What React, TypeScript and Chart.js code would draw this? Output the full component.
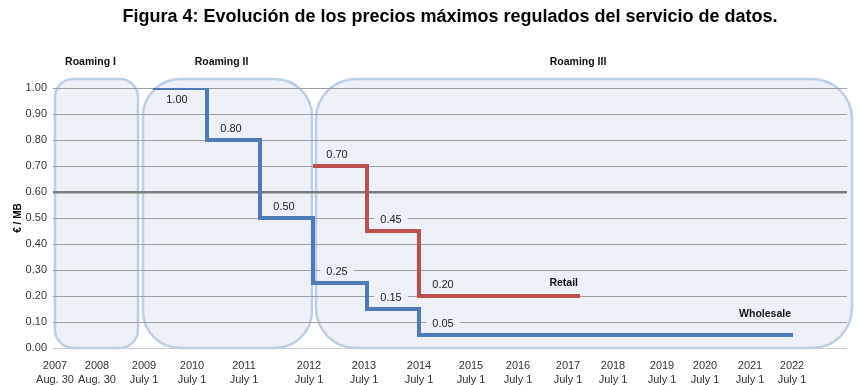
import React, { useEffect, useRef } from "react";
import { Chart, registerables } from "chart.js";

Chart.register(...registerables);

// ---- data ----
const yearLabels = ["2007", "2008", "2009", "2010", "2011", "2012", "2013", "2014", "2015", "2016", "2017", "2018", "2019", "2020", "2021", "2022"];
const dateLabels = ["Aug. 30", "Aug. 30", "July 1", "July 1", "July 1", "July 1", "July 1", "July 1", "July 1", "July 1", "July 1", "July 1", "July 1", "July 1", "July 1", "July 1"];
// position of each label on the (irregular) horizontal axis
const tickPositions = [0.2, 4.4, 9.1, 13.9, 19.1, 25.6, 31.1, 36.6, 41.8, 46.5, 51.5, 56.0, 60.9, 65.2, 69.7, 73.9];

const wholesaleX = [10.0, 15.4, 20.7, 26.0, 31.4, 36.6, 74.0];
const wholesaleY = [1.0, 0.8, 0.5, 0.25, 0.15, 0.05, 0.05];
const retailX = [26.0, 31.4, 36.6, 52.7];
const retailY = [0.7, 0.45, 0.2, 0.2];

const regionNames = ["Roaming I", "Roaming II", "Roaming III"];
const regionStart = [0.2, 9.0, 26.3];
const regionEnd = [8.5, 25.9, 79.9];
const regionTop = 1.035;

const X_MAX = 79.4;

const FONT = "'Liberation Sans', Arial, sans-serif";
const REGION_FILL = "#edf1f7";
const REGION_STROKE = "#bccfe5";

const regionsPlugin = {
  id: "regions",
  beforeDraw(chart: any) {
    const { ctx } = chart;
    const xs = chart.scales.x;
    const ys = chart.scales.y;
    ctx.save();
    regionNames.forEach((name, i) => {
      const x0 = xs.getPixelForValue(regionStart[i]);
      const x1 = xs.getPixelForValue(regionEnd[i]);
      const y0 = ys.getPixelForValue(regionTop);
      const y1 = ys.getPixelForValue(0);
      const r = Math.min(40, (x1 - x0) * 0.22);
      ctx.beginPath();
      (ctx as any).roundRect(x0, y0, x1 - x0, y1 - y0, r);
      ctx.fillStyle = REGION_FILL;
      ctx.fill();
      ctx.lineWidth = 2.5;
      ctx.strokeStyle = REGION_STROKE;
      ctx.stroke();
      ctx.fillStyle = "#111";
      ctx.font = `bold 10.5px ${FONT}`;
      ctx.textAlign = "center";
      ctx.textBaseline = "middle";
      ctx.fillText(name, (x0 + x1) / 2 - 6, y0 - 17);
    });
    ctx.restore();
  },
};

const labelsPlugin = {
  id: "valueLabels",
  afterDatasetsDraw(chart: any) {
    const { ctx } = chart;
    const xs = chart.scales.x;
    const ys = chart.scales.y;
    ctx.save();
    ctx.textAlign = "center";
    ctx.textBaseline = "middle";
    chart.data.datasets.forEach((ds: any) => {
      const pts = ds.data;
      for (let i = 0; i < pts.length - 1; i++) {
        const px = xs.getPixelForValue(pts[i].x) + 24;
        const below = pts[i].y >= 1;
        const py = ys.getPixelForValue(pts[i].y) + (below ? 12 : -11);
        const txt = pts[i].y.toFixed(2);
        ctx.font = `11px ${FONT}`;
        const w = ctx.measureText(txt).width;
        ctx.fillStyle = REGION_FILL;
        ctx.fillRect(px - w / 2 - 6, py - 5, w + 12, 10);
        ctx.fillStyle = "#222";
        ctx.fillText(txt, px, py);
      }
      const last = pts[pts.length - 1];
      ctx.font = `bold 10.5px ${FONT}`;
      ctx.textAlign = "right";
      ctx.fillStyle = "#111";
      ctx.fillText(ds.label, xs.getPixelForValue(last.x) - 2, ys.getPixelForValue(last.y) - ds.nameOffset);
      ctx.textAlign = "center";
    });
    ctx.restore();
  },
};

export default function App() {
  const ref = useRef<HTMLCanvasElement | null>(null);
  useEffect(() => {
    if (!ref.current) return;
    const chart = new Chart(ref.current, {
      type: "line",
      data: {
        datasets: [
          {
            label: "Wholesale",
            data: wholesaleX.map((x, i) => ({ x, y: wholesaleY[i] })),
            borderColor: "#4e7bb4",
            borderWidth: 4,
            pointRadius: 0,
            stepped: true,
            fill: false,
            nameOffset: 21,
          } as any,
          {
            label: "Retail",
            data: retailX.map((x, i) => ({ x, y: retailY[i] })),
            borderColor: "#b9514f",
            borderWidth: 4,
            pointRadius: 0,
            stepped: true,
            fill: false,
            nameOffset: 13,
          } as any,
        ],
      },
      options: {
        animation: false,
        responsive: false,
        layout: { padding: { top: 0, right: 9, bottom: 0, left: 0 } },
        plugins: {
          legend: { display: false },
          tooltip: { enabled: false },
          title: {
            display: true,
            fullSize: false,
            text: "Figura 4: Evolución de los precios máximos regulados del servicio de datos.",
            color: "#000",
            font: { family: FONT, size: 18, weight: "bold" },
            padding: { top: 6, bottom: 60.4 },
          },
        },
        scales: {
          x: {
            type: "linear",
            min: 0,
            max: X_MAX,
            afterBuildTicks: (s: any) => {
              s.ticks = tickPositions.map((v) => ({ value: v }));
            },
            afterFit: (s: any) => {
              s.height = 37;
            },
            ticks: {
              autoSkip: false,
              maxRotation: 0,
              padding: 3,
              color: "#333",
              font: { family: FONT, size: 11, lineHeight: 1.3 },
              callback: (_v: any, i: number) => [yearLabels[i], dateLabels[i]],
            },
            grid: { display: false },
            border: { display: false },
          },
          y: {
            min: 0,
            max: 1,
            afterFit: (s: any) => {
              s.width = 53;
            },
            ticks: {
              stepSize: 0.1,
              padding: 6,
              color: "#333",
              font: { family: FONT, size: 11 },
              callback: (v: any) => Number(v).toFixed(2),
            },
            grid: {
              drawTicks: false,
              color: (c: any) => {
                const v = c.tick ? c.tick.value : 0;
                if (Math.abs(v - 0.6) < 1e-6) return "#7c7c7c";
                if (Math.abs(v) < 1e-6) return "#c9ced6";
                return "#a0a0a0";
              },
              lineWidth: (c: any) => {
                const v = c.tick ? c.tick.value : 0;
                return Math.abs(v - 0.6) < 1e-6 ? 2.5 : 1;
              },
            },
            border: { display: false },
            title: {
              display: true,
              text: "€ / MB",
              color: "#000",
              font: { family: FONT, size: 10, weight: "bold" },
              padding: { top: 12, bottom: 0 },
            },
          },
        },
      },
      plugins: [regionsPlugin, labelsPlugin],
    });
    return () => chart.destroy();
  }, []);
  return (
    <div style={{ position: "absolute", left: 0, top: 0, width: 856, height: 385, background: "#fff" }}>
      <canvas ref={ref} width={856} height={385} />
    </div>
  );
}
